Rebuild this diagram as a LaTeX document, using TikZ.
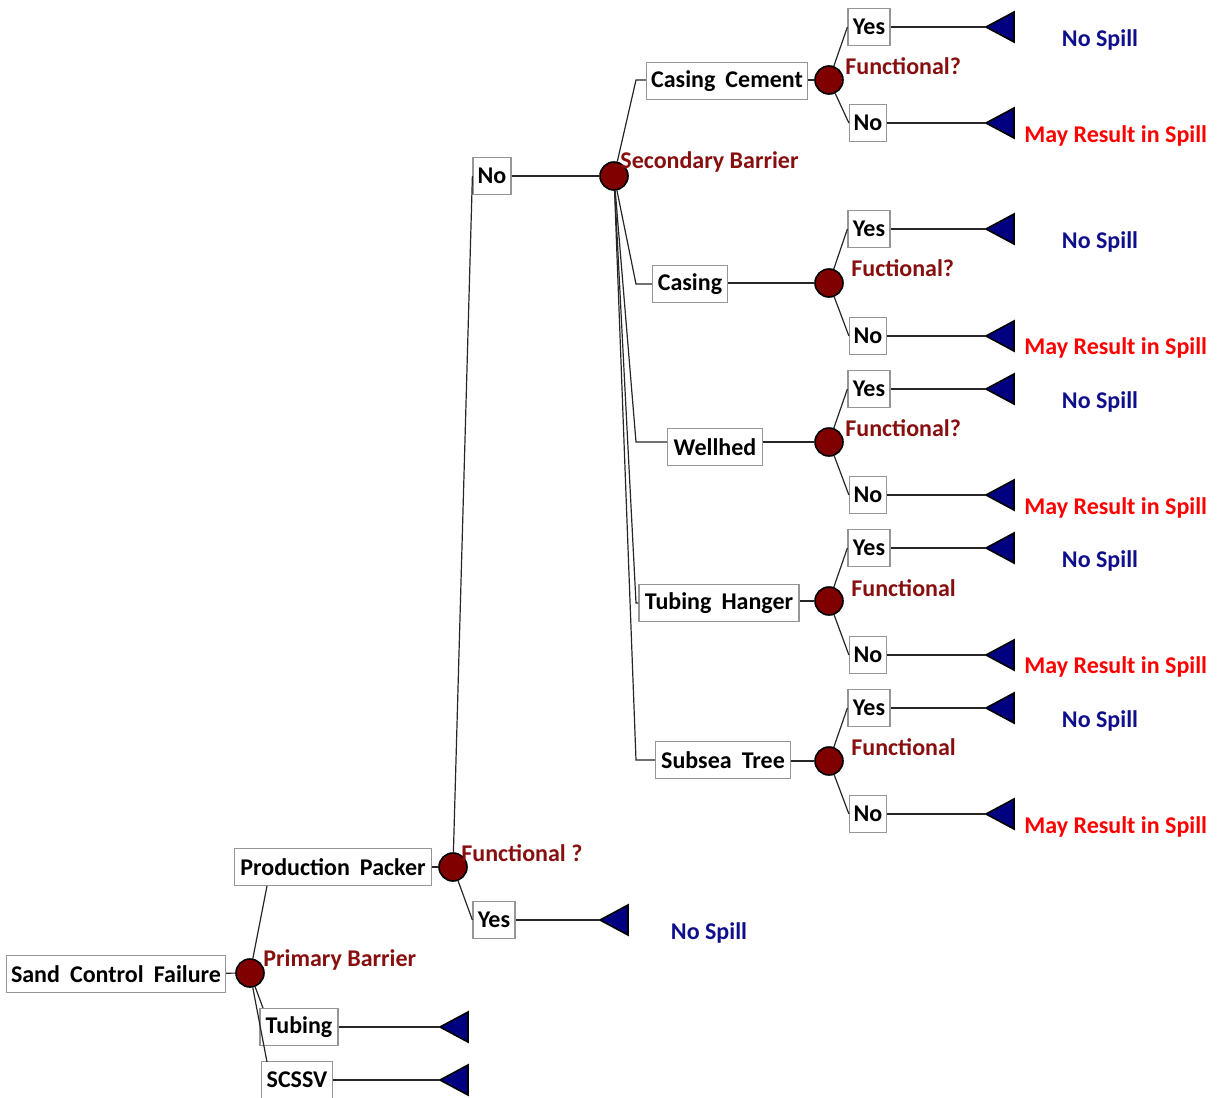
\documentclass[tikz,border=0pt]{standalone}
\usepackage{fontspec}
\setmainfont{Carlito}
\definecolor{chancered}{RGB}{128,0,0}
\definecolor{lblred}{RGB}{135,15,15}
\definecolor{navyfill}{RGB}{0,0,128}
\definecolor{navytext}{RGB}{15,15,140}
\definecolor{spillred}{RGB}{255,0,0}
\definecolor{boxgray}{RGB}{150,150,150}
\newcommand\termtri[3]{\coordinate (#1) at (#2,#3); \draw[tri] (#1) -- ++(28,-15) -- ++(0,30) -- cycle;}
\begin{document}
\begin{tikzpicture}[x=0.5pt,y=-0.5pt,
  txt/.style={font=\bfseries\fontsize{12}{14}\selectfont},
  box/.style={font={\bfseries\fontsize{12}{14}\selectfont\spaceskip=0.42em\relax}, draw=boxgray, fill=white, minimum height=18.5pt, inner sep=1pt, line width=0.6pt},
  chance/.style={circle, draw=black, line width=0.8pt, fill=chancered, minimum size=14pt, inner sep=0pt},
  lbl/.style={txt, text=lblred, anchor=west, inner sep=0pt},
  nospill/.style={txt, text=navytext, inner sep=0pt},
  spill/.style={txt, text=spillred, anchor=west, inner sep=0pt},
  tri/.style={draw=black, fill=navyfill, line width=0.8pt, line join=miter},
  conn/.style={draw=black!85, line width=0.6pt}]
\useasboundingbox (0,0) rectangle (1217,1098);

% ---- left part ----
\node[box, minimum width=109.5pt] (scf) at (116,974) {Sand Control Failure};
\node[chance] (pb) at (250,973) {};
\node[lbl] (pblbl) at (263,960) {Primary Barrier};
\node[box, minimum width=98.5pt] (pp) at (333,867) {Production Packer};
\node[box, minimum width=39pt] (tub) at (299,1027) {Tubing};
\node[box, minimum width=35.5pt] (scssv) at (297,1080) {SCSSV};
\termtri{ttub}{440}{1027}
\termtri{tscssv}{440}{1080}

\draw[conn] (scf) -- (pb);
\draw[conn] (pb) -- (267,886);
\draw[conn] (pb) -- (263,1008);
\draw[conn] (pb) -- (267,1062);
\draw[conn] (tub) -- (ttub);
\draw[conn] (scssv) -- (tscssv);

\node[chance] (fq) at (453,867) {};
\node[lbl] (fqlbl) at (461,853) {Functional ?};
\draw[conn] (pp) -- (fq);
\node[box, minimum width=21pt] (yes0) at (494,920) {Yes};
\node[box, minimum width=19pt] (no0) at (492,176) {No};
\draw[conn] (fq) -- (no0.west);
\draw[conn] (fq) -- (yes0.west);
\termtri{tyes0}{600}{920}
\draw[conn] (yes0) -- (tyes0);
\node[nospill] (ns0) at (709,933) {No Spill};

\node[chance] (sb) at (614,176) {};
\node[lbl] (sblbl) at (620,162) {Secondary Barrier};
\draw[conn] (no0) -- (sb);

% ---- barrier boxes ----
\node[box, minimum width=80.5pt] (b1) at (727,81) {Casing Cement};
\node[box, minimum width=37.5pt] (b2) at (690,284) {Casing};
\node[box, minimum width=47.5pt] (b3) at (715,447) {Wellhed};
\node[box, minimum width=80pt] (b4) at (719,603) {Tubing Hanger};
\node[box, minimum width=67.5pt] (b5) at (723,760) {Subsea Tree};

\foreach \i/\by/\cy/\lab/\lx/\ly/\yy/\ny/\nsy/\sy in {
  1/80/80/Functional?/845/66/27/123/40/136,
  2/284/283/Fuctional?/851/268/229/336/242/348,
  3/442/442/Functional?/845/428/389/495/402/508,
  4/603/601/Functional/851/588/548/655/561/667,
  5/760/761/Functional/851/747/708/814/721/827}{
  \coordinate (f\i) at (636,\by);
  \draw[conn] (sb) -- (f\i) -- (f\i -| b\i.west);
  \node[chance] (c\i) at (829,\cy) {};
  \draw[conn] (c\i) -- (c\i -| b\i.east);
  \node[lbl] (l\i) at (\lx,\ly) {\lab};
  \node[box, minimum width=21pt] (y\i) at (869,\yy) {Yes};
  \node[box, minimum width=18.5pt] (n\i) at (868,\ny) {No};
  \draw[conn] (c\i) -- (y\i.west);
  \draw[conn] (c\i) -- (n\i.west);
  \termtri{ty\i}{986}{\yy}
  \termtri{tn\i}{986}{\ny}
  \draw[conn] (y\i) -- (ty\i);
  \draw[conn] (n\i) -- (tn\i);
  \node[nospill] (ns\i) at (1100,\nsy) {No Spill};
  \node[spill] (sp\i) at (1024,\sy) {May Result in Spill};
}
\end{tikzpicture}
\end{document}
